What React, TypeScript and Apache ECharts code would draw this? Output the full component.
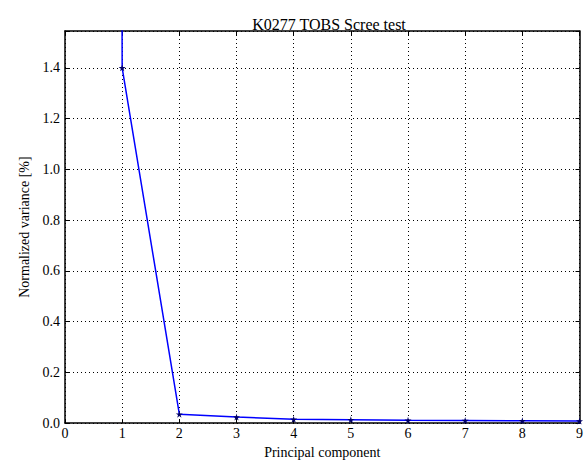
import React, { useEffect, useRef } from "react";
import * as echarts from "echarts";

const components = [0, 1, 2, 3, 4, 5, 6, 7, 8, 9];
const variance = [98.4, 1.4, 0.035, 0.024, 0.015, 0.013, 0.011, 0.01, 0.009, 0.008];
const xTicks = [0, 1, 2, 3, 4, 5, 6, 7, 8, 9];
const yTicks = [0, 0.2, 0.4, 0.6, 0.8, 1.0, 1.2, 1.4];

const FONT = "Liberation Serif";
const STAR =
  "path://M50,0 L61,35 L98,35 L68,57 L79,91 L50,70 L21,91 L32,57 L2,35 L39,35 Z";

export default function App() {
  const ref = useRef<HTMLDivElement>(null);
  useEffect(() => {
    const chart = echarts.init(ref.current!, null, { renderer: "svg" });
    const data = components.map((c, i) => [c, variance[i]]);
    const yFmt = (v: number) =>
      yTicks.some((t) => Math.abs(t - v) < 1e-6) ? v.toFixed(1) : "";
    const tickIn = { show: true, inside: true, length: 4, lineStyle: { color: "#000" } };
    chart.setOption({
      animation: false,
      backgroundColor: "#fff",
      title: {
        text: "K0277 TOBS Scree test",
        left: 324,
        top: 11,
        textAlign: "center",
        textStyle: { fontFamily: FONT, fontWeight: "normal", fontSize: 16, color: "#000" },
      },
      grid: { left: 65, right: 3, top: 31, bottom: 31, containLabel: false },
      xAxis: [
        {
          type: "value",
          min: 0,
          max: 9,
          interval: 1,
          name: "Principal component",
          nameLocation: "middle",
          nameGap: 13,
          nameTextStyle: { fontFamily: FONT, fontSize: 14, color: "#000" },
          axisLine: { show: true, onZero: false, lineStyle: { color: "#000", width: 1.5 } },
          axisTick: tickIn,
          axisLabel: {
            fontFamily: FONT,
            fontSize: 14,
            color: "#000",
            margin: 3,
            formatter: (v: number) => (xTicks.includes(v) ? String(v) : ""),
          },
          splitLine: { show: true, lineStyle: { color: "#000", type: [1, 3], width: 1 } },
        },
        {
          type: "value",
          position: "top",
          min: 0,
          max: 9,
          interval: 1,
          axisLine: { show: true, onZero: false, lineStyle: { color: "#000", width: 1.5 } },
          axisTick: tickIn,
          axisLabel: { show: false },
          splitLine: { show: false },
        },
      ],
      yAxis: [
        {
          type: "value",
          min: 0,
          max: 1.545,
          interval: 0.2,
          name: "Normalized variance [%]",
          nameLocation: "middle",
          nameGap: 28,
          nameTextStyle: { fontFamily: FONT, fontSize: 14, color: "#000" },
          axisLine: { show: true, onZero: false, lineStyle: { color: "#000", width: 1.5 } },
          axisTick: tickIn,
          axisLabel: { fontFamily: FONT, fontSize: 14, color: "#000", margin: 5, formatter: yFmt },
          splitLine: { show: true, lineStyle: { color: "#000", type: [1, 3], width: 1 } },
        },
        {
          type: "value",
          position: "right",
          min: 0,
          max: 1.545,
          interval: 0.2,
          axisLine: { show: true, onZero: false, lineStyle: { color: "#000", width: 1.5 } },
          axisTick: tickIn,
          axisLabel: { show: false },
          splitLine: { show: false },
        },
      ],
      series: [
        {
          type: "line",
          data,
          xAxisIndex: 0,
          yAxisIndex: 0,
          clip: true,
          symbol: STAR,
          symbolSize: 7,
          showAllSymbol: true,
          lineStyle: { color: "#0000ff", width: 1.5 },
          itemStyle: { color: "#000066" },
        },
      ],
    });
    return () => chart.dispose();
  }, []);
  return (
    <div
      ref={ref}
      style={{ position: "absolute", left: 0, top: 0, width: 586, height: 464 }}
    />
  );
}
